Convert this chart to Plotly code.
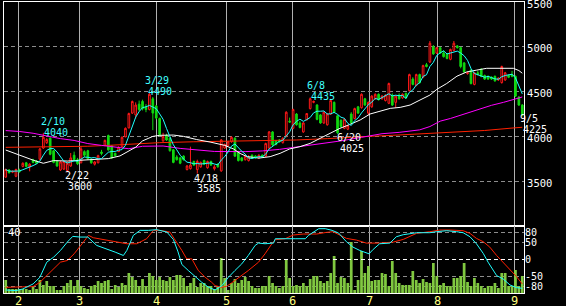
import plotly.graph_objects as go
import pandas as pd

# ---------------- data ----------------
OPEN = [3545,3625,3600,3555,3625,3665,3705,3660,3740,3725,
        3745,3870,3930,3980,3840,3725,3625,3635,3620,3670,
        3790,3740,3705,3830,3840,3745,3690,3705,3825,3900,
        4010,3895,3810,3830,3885,3995,4095,4260,4240,4360,
        4390,4330,4300,4420,4340,4200,3950,4010,3980,3850,
        3770,3760,3780,3630,3640,3720,3630,3660,3730,3650,
        3720,3640,3690,3615,3870,3900,3940,3980,3830,3760,
        3740,3730,3790,3780,3760,3790,3780,3870,4050,3950,
        3960,3930,4000,4170,4090,4250,4150,4050,4185,4310,
        4380,4350,4240,4150,4130,4250,4380,4230,4180,4090,
        4080,4250,4200,4330,4320,4420,4260,4330,4420,4470,
        4420,4400,4370,4460,4380,4460,4430,4480,4510,4640,
        4570,4690,4660,4800,4830,5000,4930,4990,4930,4920,
        4860,4960,5010,4990,4820,4700,4740,4580,4710,4750,
        4680,4670,4660,4670,4630,4600,4630,4680,4690,4670,
        4440,4350]
HIGH = [3640,3635,3620,3640,3640,3710,3715,3700,3750,3735,
        3870,4040,3980,3990,3850,3735,3725,3730,3720,3815,
        3830,3760,3890,3845,3850,3755,3725,3795,3850,3965,
        4020,3900,3820,3890,4000,4100,4265,4400,4380,4400,
        4410,4360,4490,4440,4350,4210,4040,4030,3990,3860,
        3790,3770,3790,3680,3885,3730,3740,3720,3740,3730,
        3730,3680,3700,3970,3920,3950,4000,3990,3840,3770,
        3790,3790,3800,3790,3800,3800,3930,4060,4060,3960,
        3970,3990,4280,4210,4310,4260,4170,4160,4260,4435,
        4400,4360,4250,4280,4260,4420,4390,4240,4190,4200,
        4130,4270,4320,4340,4480,4430,4390,4460,4480,4480,
        4460,4470,4600,4480,4460,4480,4480,4490,4700,4660,
        4700,4700,4800,4820,5065,5020,5000,5000,4960,4930,
        4980,5065,5020,5000,4830,4720,4750,4720,4730,4760,
        4690,4680,4670,4680,4660,4790,4720,4690,4730,4680,
        4450,4360]
LOW = [3540,3585,3590,3545,3595,3655,3655,3610,3700,3695,
       3740,3860,3915,3790,3700,3660,3615,3625,3600,3660,
       3720,3680,3700,3770,3740,3695,3675,3700,3790,3890,
       3840,3750,3775,3825,3880,3990,4090,4250,4200,4280,
       4290,4270,4290,4070,4190,4000,3940,3950,3830,3700,
       3730,3690,3730,3620,3630,3670,3585,3650,3680,3640,
       3670,3620,3650,3605,3860,3890,3930,3770,3720,3720,
       3730,3720,3750,3750,3750,3760,3770,3860,3890,3900,
       3930,3920,3990,4150,4080,4120,4090,4040,4180,4300,
       4370,4180,4140,4140,4120,4240,4260,4025,4100,4080,
       4070,4140,4190,4250,4310,4340,4240,4320,4410,4400,
       4410,4390,4360,4340,4320,4410,4420,4420,4500,4570,
       4560,4590,4650,4770,4820,4910,4920,4920,4880,4860,
       4850,4950,4980,4760,4710,4690,4580,4570,4680,4660,
       4630,4630,4630,4610,4620,4590,4620,4650,4660,4440,
       4340,4225]
CLOSE = [3630,3595,3610,3630,3605,3700,3665,3690,3710,3700,
         3860,3990,3965,3800,3710,3670,3715,3720,3700,3760,
         3740,3695,3860,3790,3750,3705,3715,3785,3810,3955,
         3850,3760,3785,3880,3990,4090,4255,4390,4350,4300,
         4310,4300,4470,4260,4205,4020,4000,3960,3840,3710,
         3740,3700,3740,3670,3680,3680,3720,3710,3690,3720,
         3680,3660,3660,3960,3910,3940,3990,3780,3730,3730,
         3780,3770,3760,3770,3790,3770,3920,4050,3905,3910,
         3940,3980,4270,4160,4300,4130,4100,4150,4255,4420,
         4390,4190,4150,4270,4250,4400,4270,4040,4110,4190,
         4120,4150,4310,4260,4470,4350,4380,4450,4470,4410,
         4450,4460,4590,4350,4450,4420,4470,4430,4690,4580,
         4690,4600,4790,4780,5040,4920,4990,4930,4890,4870,
         4970,5040,4990,4780,4720,4710,4590,4710,4690,4670,
         4640,4640,4640,4620,4650,4780,4710,4660,4670,4450,
         4350,4240]
VOLUME = [13,4,4,4,4,4,4,3,6,4, 13,8,12,7,7,3,3,7,10,13,
          7,13,7,5,4,7,8,12,10,12, 13,4,8,6,10,8,20,16,13,7,
          14,7,20,17,13,16,13,12,16,13, 18,
          18,15,7,10,15,6,10,10,7,7, 4,6,35,15,3,10,14,10,13,16,
          12,7,5,5,7,7,17,10,7,5, 7,34,15,7,8,7,10,7,14,17,
          17,12,10,12,20,37,10,16,15,10,
          51,3,13,42,20,27,12,13,13,20, 19,7,32,20,10,8,8,8,22,13,
          10,14,11,10,30,17,8,10,7,7, 15,15,17,30,11,7,15,10,7,5,
          7,7,10,5,20,20,7,7,23,7, 17]

# moving-average lines read as knots (day index, price)
WHITE_IDX = [0,4,8,11,14,18,22,26,30,33.4,36.3,38,40,43,45,49,52,55.8,60,64,66.6,68.5,70.5,74,77.3,80.2,83,86,89,92,94.8,97.7,100.7,103.6,106.5,109.4,112.4,115.3,118.2,121.1,124,126,128.9,131.9,134.8,137.7,140.6,148.4,150,151]
WHITE_VAL = [3848,3790,3735,3700,3730,3725,3735,3742,3752,3782,3840,3880,3950,4000,4012,4015,4000,3965,3935,3900,3860,3810,3775,3758,3774,3811,3860,3885,3922,3978,4034,4090,4135,4183,4250,4283,4313,4324,4350,4406,4461,4525,4590,4672,4720,4740,4760,4760,4735,4705]
MAGENTA_IDX = [0,4,8,12,16,20,24,28,32,36,40,46,51,56,61,70,75,80,86,92,98,104,107,110,115,121,124,127,130,133,136,139,142,145.5,148.4,151]
MAGENTA_VAL = [4065,4055,4035,4004,3975,3955,3920,3900,3878,3862,3890,3893,3866,3848,3832,3830,3838,3855,3885,3922,3950,3990,4008,4030,4045,4073,4110,4170,4200,4237,4272,4310,4347,4380,4412,4440]
REDMA_IDX = [0,10,16,24,30,38,45,55,65,75,85,94,100,106,113,121,130,140,148,151]
REDMA_VAL = [3878,3880,3885,3890,3900,3915,3930,3940,3945,3950,3960,3975,3990,4000,4012,4030,4048,4066,4093,4102]

# oscillator knots (day index, value)
OSC_C_IDX = [0,3,5,8,10,12,14,16,18,19.6,21.7,24,26.6,29.5,32,34.4,35.4,37.3,39.3,41.7,44.1,47.1,49,50.3,51.5,53.4,55.4,57.3,59.3,61.2,63.2,65.1,67,69,70.9,72.9,73.9,75.8,78.3,78.8,84.6,87.6,88.5,91.5,93.4,95.4,97.3,99.6,101.5,103.5,106.2,107.4,109.3,112.3,114.2,116.2,120.1,124,125.9,128.9,131.8,133.7,135.7,137.6,139.6,141,143.5,145.4,147.4,149.3,151]
OSC_C_VAL = [-91,-93,-88,-73,-53,-8,7,27,52,69,67,67,42,32,22,12,27,72,87,87,89,82,60,25,-15,-33,-51,-68,-83,-91,-78,-53,-33,-13,12,42,49,47,49,62,62,62,72,92,92,87,79,53,37,27,17,30,47,49,68,74,80,80,83,86,83,80,68,47,18,-8,-48,-58,-76,-84,-86]
OSC_R_IDX = [0,4,8,10,13,16,18,20,22.7,24.2,25.6,28.6,32.5,35.4,38.3,41.2,43.2,45,48,50,51.5,52.9,54.4,56.3,58.3,60.2,61.2,63.2,64.6,66,68,70.9,73.9,75.8,77.8,78.8,81.7,84,87,90.9,93.8,95.7,97.6,99.6,102.5,105.4,109.3,113.3,116.2,120.1,124,126.9,129.9,133.7,135.7,137.6,139.6,141.5,143.5,145.4,147.4,149.3,151]
OSC_R_VAL = [-83,-83,-81,-68,-38,-8,-3,17,52,72,65,60,52,47,47,62,87,87,82,52,27,2,2,-33,-53,-68,-78,-83,-80,-70,-55,-33,-8,17,47,59,62,73,76,76,81,83,73,63,58,49,49,52,60,78,83,88,88,86,78,63,53,37,12,-8,-28,-51,-73]

# axis labels
MONTH_POS = [3.6, 21.7, 44.2, 64.4, 83.7, 106.2, 126.1, 148.6]
MONTH_LABELS = ['2', '3', '4', '5', '6', '7', '8', '9']
PRICE_TICKS = [3500, 4000, 4500, 5000, 5500]
OSC_TICKS = [-80, -50, 0, 50, 80]
# marked extremes: (label, day index, kind)
MARKS = [('2/10', 11, 'high'), ('3/29', 42, 'high'), ('6/8', 89, 'high'),
         ('2/22', 18, 'low'), ('4/18', 56, 'low'), ('6/20', 97, 'low'), ('9/5', 151, 'low')]
VOL_LABEL = '40'

# ---------------- styles ----------------
MARK_OFFSETS = {'2/10': (10, 11, 13, 0), '3/29': (8, 12, 11, 1), '6/8': (6, 12, 13, 1),
                '2/22': (10, -3, 13, -14), '4/18': (9, -4.5, 12, -15),
                '6/20': (11, -3, 14, -14), '9/5': (7, -2, 13, -13)}
FONT = 'DejaVu Sans Mono'
FS = 10
W, H = 566, 306
X0, X1 = 4 / W, 524 / W
MAIN_DOM = [1 - 226 / H, 1 - 2 / H]
LOW_DOM = [1 - 293 / H, 1 - 226 / H]
GRID = '#8c8c8c'
VGRID = '#b0b0b0'
DASH = '4px,3px'

idx = list(range(len(CLOSE)))
cyan_ma = pd.Series(CLOSE).rolling(5, min_periods=1).mean()

fig = go.Figure()
fig.add_trace(go.Candlestick(
    x=idx, open=OPEN, high=HIGH, low=LOW, close=CLOSE,
    increasing=dict(line=dict(color='#ff1818', width=1), fillcolor='#000000'),
    decreasing=dict(line=dict(color='#10d810', width=1), fillcolor='#10d810'),
    whiskerwidth=0, showlegend=False, hoverinfo='skip', xaxis='x', yaxis='y'))
fig.add_trace(go.Scatter(x=REDMA_IDX, y=REDMA_VAL, mode='lines',
                         line=dict(color='#ff2000', width=1), xaxis='x', yaxis='y', showlegend=False))
fig.add_trace(go.Scatter(x=MAGENTA_IDX, y=MAGENTA_VAL, mode='lines',
                         line=dict(color='#ff00ff', width=1), xaxis='x', yaxis='y', showlegend=False))
fig.add_trace(go.Scatter(x=WHITE_IDX, y=WHITE_VAL, mode='lines',
                         line=dict(color='#ffffff', width=1), xaxis='x', yaxis='y', showlegend=False))
fig.add_trace(go.Scatter(x=idx, y=cyan_ma, mode='lines',
                         line=dict(color='#20ffff', width=1), xaxis='x', yaxis='y', showlegend=False))

fig.add_trace(go.Bar(x=idx, y=VOLUME, marker=dict(color='#80c840', line=dict(width=0)),
                     xaxis='x2', yaxis='y2', showlegend=False))
fig.add_trace(go.Scatter(x=OSC_R_IDX, y=OSC_R_VAL, mode='lines',
                         line=dict(color='#ff2000', width=1), xaxis='x2', yaxis='y3', showlegend=False))
fig.add_trace(go.Scatter(x=OSC_C_IDX, y=OSC_C_VAL, mode='lines',
                         line=dict(color='#20ffff', width=1), xaxis='x2', yaxis='y3', showlegend=False))

annotations = []
for label, i, kind in MARKS:
    val = HIGH[i] if kind == 'high' else LOW[i]
    col = '#40ffff' if kind == 'high' else '#ffffff'
    dxd, dyd, dxv, dyv = MARK_OFFSETS[label]
    annotations.append(dict(x=i, y=val, xref='x', yref='y', text=label, showarrow=False,
                            xanchor='center', yanchor='middle',
                            xshift=dxd, yshift=dyd, font=dict(family=FONT, size=FS, color=col)))
    annotations.append(dict(x=i, y=val, xref='x', yref='y', text=str(val), showarrow=False,
                            xanchor='center', yanchor='middle',
                            xshift=dxv, yshift=dyv, font=dict(family=FONT, size=FS, color=col)))
annotations.append(dict(x=14.5 / W, y=1 - 232 / H, xref='paper', yref='paper', text=VOL_LABEL,
                        xanchor='center', yanchor='middle', showarrow=False,
                        font=dict(family=FONT, size=10.5, color='#ffffff')))
# month labels below the lower panel
for pos, lab in zip(MONTH_POS, MONTH_LABELS):
    annotations.append(dict(x=pos, y=1 - 300.5 / H, xref='x2', yref='paper', text=lab,
                            xanchor='center', yanchor='middle', showarrow=False,
                            font=dict(family=FONT, size=12, color='#ffff80')))

axis_common = dict(showline=True, linecolor='#ffffff', linewidth=1, mirror=True,
                   zeroline=False, automargin=False)

fig.update_layout(
    width=W, height=H, margin=dict(l=0, r=0, t=0, b=0, pad=0, autoexpand=False),
    paper_bgcolor='#000000', plot_bgcolor='#000000',
    bargap=0.2, showlegend=False,
    xaxis=dict(domain=[X0, X1], range=[-0.5, len(CLOSE) - 0.5], anchor='y',
               tickvals=MONTH_POS, showticklabels=False, ticks='',
               showgrid=True, gridcolor=VGRID, gridwidth=1,
               rangeslider=dict(visible=False), **axis_common),
    yaxis=dict(domain=MAIN_DOM, range=[3000, 5500], anchor='x', side='right',
               tickvals=PRICE_TICKS, ticktext=[str(v) for v in PRICE_TICKS], ticks='',
               tickfont=dict(family=FONT, size=10.5, color='#ffffff'), ticklabelshift=2,
               ticklabeloverflow='allow',
               showgrid=True, gridcolor=GRID, griddash=DASH, gridwidth=1, **axis_common),
    xaxis2=dict(domain=[X0, X1], range=[-0.5, len(CLOSE) - 0.5], anchor='y2', matches='x',
                tickvals=MONTH_POS, showticklabels=False, ticks='',
                showgrid=True, gridcolor=VGRID, gridwidth=1, **axis_common),
    yaxis2=dict(domain=LOW_DOM, range=[0, 67], anchor='x2', showticklabels=False, ticks='',
                showgrid=False, **axis_common),
    yaxis3=dict(domain=LOW_DOM, range=[-100, 100], anchor='x2', overlaying='y2', side='right',
                tickvals=OSC_TICKS, ticktext=[str(v) for v in OSC_TICKS], ticks='',
                tickfont=dict(family=FONT, size=10, color='#ffffff'),
                ticklabeloverflow='allow',
                showgrid=True, gridcolor=GRID, griddash=DASH, gridwidth=1, zeroline=False,
                showline=False, automargin=False),
    shapes=[dict(type='line', xref='x2 domain', x0=0, x1=1, yref='y3', y0=0, y1=0,
                 line=dict(color='#ffffff', width=1, dash=DASH))],
    annotations=annotations,
)

fig.write_html('out.html')
